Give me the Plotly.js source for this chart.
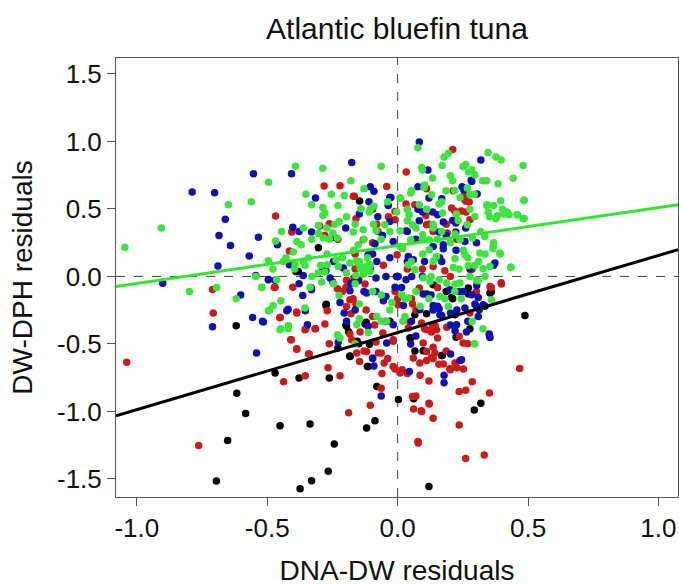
<!DOCTYPE html>
<html>
<head>
<meta charset="utf-8">
<script src="https://cdn.plot.ly/plotly-3.0.1.min.js"></script>
<style>html,body{margin:0;padding:0;background:#fff;}#chart{width:679px;height:587px;}</style>
</head>
<body>
<div id="chart"></div>
<script>
// ---- data ----
// outer / sparse points
var blackX = [-0.304,-0.619,-0.274,-0.470,-0.617,-0.583,-0.451,-0.336,-0.652,-0.243,-0.695,-0.266,-0.330,-0.374,-0.262,-0.378,-0.183,-0.198,-0.146,-0.121,-0.108,-0.119,-0.087,-0.080,-0.113,0.003,0.061,0.050,0.120,0.171,0.294,0.319,0.488,0.359,0.186,0.224,-0.030,0.277,0.111,-0.229,0.211,0.066,-0.149,-0.188,-0.390];
var blackY = [0.213,-0.365,-0.207,-0.716,-0.865,-1.015,-1.106,-1.093,-1.216,-1.241,-1.515,-1.444,-1.513,-1.573,-0.753,-0.753,-0.589,-0.359,0.558,-0.340,-0.503,-1.123,-1.069,-0.815,-0.667,-0.912,-0.907,-0.456,-1.556,-0.586,-0.990,-0.940,-0.290,-0.116,-0.111,-0.451,-0.332,-0.387,-0.276,-0.531,-0.166,-0.553,-0.498,-0.409,0.036];

var redX = [-1.039,-0.763,-0.710,-0.707,-0.468,-0.473,-0.451,-0.437,-0.408,-0.387,-0.415,-0.387,-0.352,-0.342,-0.354,-0.315,-0.282,-0.221,-0.299,-0.279,-0.262,-0.267,-0.221,-0.188,-0.212,-0.171,-0.166,-0.146,-0.105,-0.096,-0.080,-0.060,-0.055,-0.035,-0.017,-0.010,0.017,0.033,0.061,0.070,0.078,0.090,0.120,0.136,0.136,0.111,0.136,0.103,0.128,0.158,0.202,0.227,0.252,0.236,0.261,0.236,0.261,0.332,0.352,0.397,0.359,0.468,0.211,0.111,0.256,0.261,0.219,0.244,0.120,0.136,0.153,0.037,0.053,0.000,0.070,0.202,0.095,-0.163,-0.149,-0.196,-0.121,-0.179,-0.088,-0.063,-0.129,-0.038,-0.063,0.037,0.120,0.086,0.153,0.186,0.144,0.269,0.302,0.286,0.286,-0.229,-0.163,-0.096,-0.075,0.186,0.227,0.009,0.057,0.092,0.121,0.079];
var redY = [-0.636,-1.252,-0.097,-0.271,0.448,-0.083,-0.304,-0.780,-0.470,-0.539,0.188,-0.263,-0.387,-0.575,-0.735,-0.387,0.669,0.672,0.373,0.304,-0.498,-0.677,-0.735,-1.009,-0.111,-0.166,0.594,-0.630,-0.954,0.498,0.387,-0.719,0.083,0.442,-0.470,-0.686,-0.691,0.774,-0.982,-0.885,-1.222,-0.995,-0.940,-1.051,-0.525,-0.622,-0.608,-0.387,-0.401,-0.650,-0.691,-0.677,-0.686,-0.852,-0.843,-1.100,-1.349,-1.322,-0.863,-0.047,-0.083,-0.683,0.940,0.650,0.608,0.558,0.484,0.484,0.387,0.332,-0.083,0.055,-0.166,-0.166,-0.249,0.000,0.055,0.055,-0.022,-0.028,-0.249,-0.276,-0.359,-0.567,-0.553,-0.608,-0.829,-0.719,-0.774,-0.733,-0.456,-0.553,-0.365,-0.498,-0.111,0.055,-0.780,0.276,0.166,0.249,0.332,0.387,0.276,-0.716,-0.889,-1.000,-0.945,-1.234];

var blueX = [-0.788,-0.702,-0.901,-0.710,-0.689,-0.685,-0.661,-0.641,-0.553,-0.569,-0.534,-0.541,-0.556,-0.518,-0.602,-0.495,-0.407,-0.402,-0.420,-0.378,-0.354,-0.332,-0.315,-0.246,-0.199,-0.176,-0.105,-0.110,-0.096,-0.076,-0.058,-0.179,-0.129,-0.105,-0.055,-0.046,-0.063,-0.096,-0.005,0.015,0.037,0.070,0.083,0.116,0.078,0.120,0.078,0.153,0.136,0.103,0.095,0.128,0.153,0.169,0.136,0.070,0.045,0.178,0.178,0.239,0.247,0.282,0.319,0.302,0.277,0.368,0.352,0.335,0.302,0.269,0.227,0.202,0.211,0.186,0.261,0.224,0.169,0.037,-0.030,-0.163,-0.196,-0.221,-0.246,-0.287,-0.362,-0.470,-0.461,-0.378,-0.091,0.136,0.161,0.252,0.053];
var blueY = [0.625,0.619,-0.050,-0.373,0.077,0.304,0.423,0.229,0.760,0.152,0.290,-0.567,-0.304,-0.332,-0.138,-0.022,0.760,0.365,-0.243,-0.055,-0.254,-0.083,0.581,0.290,0.359,0.843,0.664,0.553,0.166,0.442,0.304,-0.055,-0.111,0.055,-0.180,-0.332,-0.885,-0.608,0.000,-0.083,0.111,0.276,0.995,0.788,0.664,0.581,0.498,0.456,0.221,0.111,0.000,-0.138,-0.221,-0.290,-0.249,-0.442,-0.705,-0.788,-0.733,-0.622,0.664,0.713,0.863,0.249,0.055,0.083,-0.442,-0.221,-0.221,-0.332,-0.249,-0.359,0.415,0.304,0.359,0.194,0.111,0.332,0.138,-0.249,-0.332,-0.194,0.111,0.055,0.006,-0.028,0.235,0.332,-0.663,0.359,0.138,-0.111,-0.332];

var greenX = [-1.046,-0.906,-0.798,-0.694,-0.649,-0.619,-0.561,-0.544,-0.521,-0.491,-0.495,-0.468,-0.448,-0.448,-0.445,-0.420,-0.392,-0.370,-0.362,-0.352,-0.342,-0.329,-0.329,-0.287,-0.279,-0.271,-0.254,-0.241,-0.221,-0.196,-0.169,-0.146,-0.138,-0.129,-0.116,-0.105,-0.093,-0.063,-0.038,-0.030,-0.063,-0.022,0.012,0.017,0.037,0.053,0.053,0.078,0.095,0.103,0.111,0.128,0.136,0.169,0.178,0.194,0.202,0.219,0.232,0.261,0.272,0.294,0.277,0.342,0.347,0.377,0.397,0.385,0.402,0.427,0.443,0.460,0.481,0.485,0.485,0.435,0.393,0.368,0.352,0.319,0.310,0.302,0.294,0.286,0.269,0.236,0.202,0.169,0.136,0.120,0.086,0.070,0.028,0.020,-0.030,-0.063,-0.096,-0.163,-0.196,-0.212,-0.246,-0.295,-0.362,-0.395,-0.428,-0.478,-0.163,-0.113,0.219,0.244,0.327,0.277,0.335,0.070,0.153,-0.063,-0.129,-0.163,-0.105,-0.229,-0.262,-0.304,0.095,0.252,0.335,0.368,-0.140,-0.120,-0.150,-0.110,-0.130];
var greenY = [0.216,0.359,-0.111,-0.083,0.531,-0.166,0.553,0.000,-0.083,-0.249,0.697,0.263,-0.387,-0.180,0.332,-0.387,0.816,0.235,0.359,0.608,0.138,0.000,0.276,0.802,0.470,0.166,0.608,0.387,-0.456,0.442,0.194,0.111,0.055,0.650,0.138,0.083,0.387,0.816,0.553,0.332,-0.332,-0.194,0.581,0.221,0.498,0.636,0.111,0.954,0.788,0.677,0.498,0.000,0.387,0.553,0.885,0.912,0.746,0.636,0.415,0.829,0.774,0.608,0.498,0.525,0.918,0.885,0.863,0.686,0.498,0.456,0.727,0.456,0.821,0.567,0.429,0.069,0.166,0.249,0.442,0.332,0.111,-0.028,-0.498,-0.332,0.138,0.055,0.249,0.332,0.111,-0.166,-0.221,-0.111,-0.166,-0.332,-0.249,-0.138,-0.111,-0.055,0.028,0.138,-0.055,0.083,0.111,0.055,0.138,0.055,-0.498,-0.415,-0.111,-0.166,-0.387,0.000,0.000,0.359,0.276,0.276,0.276,0.387,0.498,0.525,0.276,0.318,0.276,0.194,0.166,0.525,0.070,0.040,0.100,0.090,0.020];

// dense-core points (read from close-up views)
var blackCoreX = [-0.381,-0.275,-0.196,-0.125,-0.155,-0.183,-0.116,0.136,0.271,0.354,0.111,0.207,0.271,0.220,0.066,0.047,0.098,0.169];
var blackCoreY = [0.037,-0.215,-0.370,-0.353,-0.481,-0.593,-0.667,-0.061,-0.086,-0.123,-0.130,-0.156,-0.130,-0.284,-0.284,-0.456,-0.551,-0.585];

var redCoreX = [-0.042,-0.170,-0.010,-0.160,-0.262,-0.406,-0.132,0.032,0.066,0.258,0.274,0.213,0.207,0.262,0.108,-0.010,0.111,0.277,0.190,0.032,-0.167,-0.125,-0.470,-0.402,-0.249,-0.231,-0.198,-0.183,-0.196,-0.160,-0.387,-0.270,-0.451,-0.355,-0.317,-0.279,-0.183,-0.176,-0.144,-0.096,-0.057,-0.410,-0.387,-0.339,-0.157,-0.119,-0.074,-0.052,-0.017,-0.083,-0.002,0.136,0.181,0.280,0.354,0.398,-0.010,0.083,0.002,0.057,0.277,0.047,0.041,0.092,0.111,0.130,0.149,0.134,0.188,0.236,0.251,-0.017,0.098,0.111,0.130,0.143,0.060,0.085,0.175,0.220,0.200];
var redCoreY = [0.667,0.593,0.481,0.427,0.390,0.329,0.272,0.536,0.531,0.568,0.551,0.635,0.506,0.477,0.452,0.420,0.383,0.420,0.321,0.339,-0.012,-0.056,-0.081,-0.081,-0.041,-0.091,-0.081,-0.173,-0.222,-0.204,-0.271,-0.254,-0.304,-0.395,-0.387,-0.353,-0.427,-0.469,-0.412,-0.296,-0.419,-0.469,-0.536,-0.575,-0.568,-0.556,-0.568,-0.642,-0.667,-0.486,0.161,0.074,0.042,0.050,-0.074,-0.056,-0.111,-0.086,-0.210,-0.204,-0.271,-0.338,-0.382,-0.345,-0.395,-0.412,-0.395,-0.358,-0.377,-0.444,-0.494,-0.481,-0.494,-0.556,-0.600,-0.568,-0.605,-0.642,-0.649,-0.642,-0.684];

var blueCoreX = [-0.091,-0.030,-0.036,-0.147,-0.030,-0.330,-0.087,0.254,0.284,0.305,-0.026,0.169,0.134,0.096,0.083,0.175,0.223,0.159,0.223,0.175,0.258,-0.017,-0.415,-0.275,-0.113,-0.080,-0.208,-0.151,-0.176,-0.083,-0.045,-0.496,-0.544,-0.364,-0.330,-0.259,-0.183,-0.119,-0.083,-0.045,-0.425,-0.205,-0.515,-0.346,-0.113,-0.017,-0.228,-0.096,-0.042,0.041,0.060,0.175,0.373,0.002,0.032,0.054,0.303,0.309,0.284,-0.010,0.098,0.236,0.200,0.022,0.085,0.136,0.159,0.162,0.203,0.258,0.296,0.313,0.328,0.309,0.226,0.220,0.264,0.351,0.354,0.050,0.203,0.245];
var blueCoreY = [0.630,0.585,0.526,0.462,0.407,0.329,0.242,0.642,0.704,0.610,0.585,0.576,0.477,0.477,0.413,0.403,0.396,0.329,0.329,0.235,0.259,0.259,0.087,0.042,0.161,0.111,0.062,-0.032,-0.049,-0.012,0.000,-0.024,0.007,-0.141,-0.099,-0.012,-0.106,-0.123,-0.111,-0.148,-0.254,-0.271,-0.338,-0.358,-0.370,-0.358,-0.486,-0.605,-0.494,0.148,0.124,0.205,0.099,0.000,-0.024,0.000,-0.067,-0.156,-0.136,-0.081,-0.130,-0.111,-0.099,-0.215,-0.247,-0.215,-0.239,-0.284,-0.271,-0.234,-0.204,-0.247,-0.210,-0.296,-0.358,-0.402,-0.412,-0.427,-0.452,-0.501,-0.575,-0.617];

var greenCoreX = [-0.179,-0.330,-0.205,-0.141,-0.287,-0.287,-0.109,-0.091,-0.049,-0.224,-0.304,-0.272,-0.249,-0.170,-0.132,-0.083,-0.387,-0.285,-0.231,-0.151,0.171,0.092,0.251,0.284,0.134,0.211,0.296,0.326,0.341,0.101,0.185,0.267,0.277,0.050,0.130,0.009,0.083,0.239,0.159,0.343,0.395,0.484,0.347,0.382,0.407,0.420,0.458,0.481,0.377,0.226,0.296,0.172,0.044,-0.004,0.037,0.057,0.267,0.136,0.220,0.009,0.096,0.287,0.334,0.121,0.050,0.239,0.009,0.366,-0.400,-0.496,-0.438,-0.393,-0.355,-0.236,-0.228,-0.304,-0.270,-0.279,-0.183,-0.157,-0.144,-0.119,-0.106,-0.132,-0.160,-0.464,-0.521,-0.336,-0.291,-0.224,-0.147,-0.477,-0.496,-0.355,-0.419,-0.451,-0.157,-0.147,-0.080,-0.042,-0.231,0.019,0.096,0.121,0.149,0.220,0.258,0.315,0.366,0.392,0.433,0.271,0.296,0.328,0.354,0.213,0.041,0.066,0.098,0.124,0.159,0.188,0.220,0.239,0.309,0.360,0.015,0.041,0.162,0.181,0.194,0.028,0.296];
var greenCoreY = [0.709,0.531,0.600,0.501,0.511,0.452,0.477,0.519,0.383,0.407,0.378,0.358,0.321,0.329,0.346,0.339,0.259,0.284,0.284,0.235,0.822,0.807,0.815,0.790,0.729,0.709,0.753,0.709,0.709,0.659,0.635,0.655,0.605,0.618,0.605,0.581,0.531,0.585,0.536,0.531,0.561,0.561,0.477,0.452,0.462,0.477,0.457,0.427,0.427,0.462,0.444,0.470,0.457,0.477,0.413,0.383,0.383,0.358,0.314,0.339,0.309,0.284,0.296,0.272,0.272,0.272,0.222,0.222,0.181,0.116,0.111,0.087,0.081,0.124,0.074,0.025,0.087,0.033,0.099,0.116,0.062,0.074,0.037,0.018,0.007,-0.024,-0.081,-0.081,-0.041,-0.141,-0.204,-0.215,-0.254,-0.234,-0.363,-0.395,-0.358,-0.313,-0.296,-0.333,-0.432,0.205,0.166,0.198,0.148,0.131,0.161,0.173,0.205,0.173,0.067,0.081,0.081,0.057,0.074,0.067,0.087,0.050,-0.012,-0.037,-0.024,-0.049,-0.056,-0.049,-0.032,-0.173,-0.136,-0.160,-0.148,-0.165,-0.222,-0.296,-0.501];

// fitted regression lines (end values read at the plot edges)
var fitX = [-1.08, 1.075];
var blackFitY = [-1.032, 0.198];
var greenFitY = [-0.074, 0.531];

// axis ticks
var xTicks = [-1.0, -0.5, 0.0, 0.5, 1.0];
var xTickText = ["-1.0", "-0.5", "0.0", "0.5", "1.0"];
var yTicks = [-1.5, -1.0, -0.5, 0.0, 0.5, 1.0, 1.5];
var yTickText = ["-1.5", "-1.0", "-0.5", "0.0", "0.5", "1.0", "1.5"];

var FONT = '"Liberation Sans", Arial, sans-serif';

function pts(x, y, color) {
  return {x: x, y: y, type: 'scatter', mode: 'markers', hoverinfo: 'skip',
          marker: {color: color, size: 7.5, line: {width: 0}}, showlegend: false};
}
function fit(y, color) {
  return {x: fitX, y: y, type: 'scatter', mode: 'lines', hoverinfo: 'skip',
          line: {color: color, width: 3}, showlegend: false};
}

var RED = '#cc1a1a', BLUE = '#1010b0', GREEN = '#3de43d', BLACK = '#000000';
var data = [
  pts(blackX.concat(blackCoreX), blackY.concat(blackCoreY), BLACK),
  pts(redX.concat(redCoreX), redY.concat(redCoreY), RED),
  pts(blueX.concat(blueCoreX), blueY.concat(blueCoreY), BLUE),
  pts(greenX.concat(greenCoreX), greenY.concat(greenCoreY), GREEN),
  fit(blackFitY, '#000000'),
  fit(greenFitY, '#33e633')
];

var layout = {
  width: 679, height: 587,
  margin: {l: 116, r: 1, t: 58, b: 90},
  paper_bgcolor: '#ffffff', plot_bgcolor: '#ffffff',
  font: {family: FONT, color: '#111111', size: 26},
  title: {text: 'Atlantic bluefin tuna', font: {family: FONT, size: 30, color: '#111111'},
          x: 0.5, xref: 'paper', xanchor: 'center', y: 1 - 28/587, yref: 'container', yanchor: 'middle'},
  xaxis: {range: [-1.08, 1.075], tickvals: xTicks, ticktext: xTickText,
          ticks: 'outside', ticklen: 8, tickwidth: 1, tickcolor: '#555',
          showgrid: false, zeroline: false, showline: true, linecolor: '#555', linewidth: 1, mirror: true,
          tickfont: {family: FONT, size: 26, color: '#111'},
          title: {text: 'DNA-DW residuals', font: {family: FONT, size: 28, color: '#111'}, standoff: 18}},
  yaxis: {range: [-1.634, 1.618], tickvals: yTicks, ticktext: yTickText,
          ticks: 'outside', ticklen: 8, tickwidth: 1, tickcolor: '#555',
          showgrid: false, zeroline: false, showline: true, linecolor: '#555', linewidth: 1, mirror: true,
          tickfont: {family: FONT, size: 26, color: '#111'},
          title: {text: 'DW-DPH residuals', font: {family: FONT, size: 28, color: '#111'}, standoff: 16}},
  shapes: [
    {type: 'line', xref: 'x', yref: 'paper', x0: 0, x1: 0, y0: 0, y1: 1, layer: 'below',
     line: {color: '#444', width: 1, dash: 'dash'}},
    {type: 'line', xref: 'paper', yref: 'y', x0: 0, x1: 1, y0: 0, y1: 0, layer: 'below',
     line: {color: '#444', width: 1, dash: 'dash'}}
  ]
};

Plotly.newPlot('chart', data, layout, {staticPlot: true, displayModeBar: false});
</script>
</body>
</html>
